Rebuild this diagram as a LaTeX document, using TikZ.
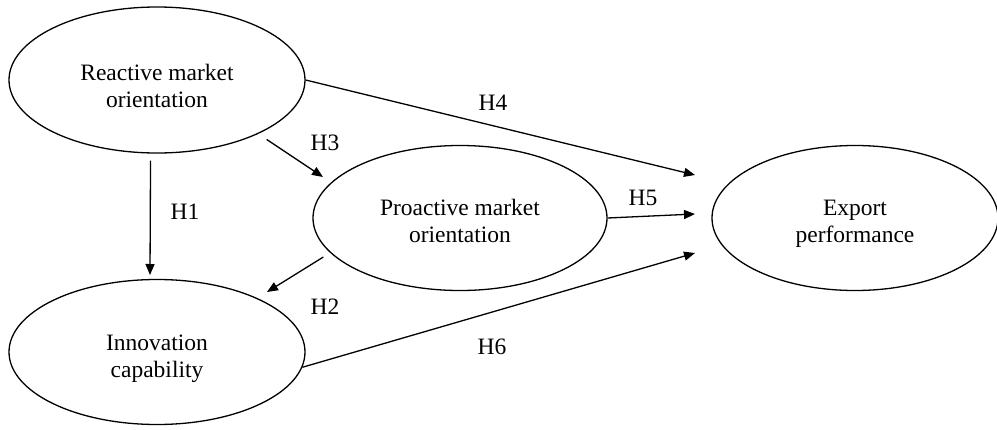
\documentclass[tikz,border=0pt]{standalone}
\usepackage{fontspec}
\setmainfont{Liberation Serif}
\usetikzlibrary{shapes.geometric,arrows.meta}
\newcommand\lowtext[2]{\raisebox{-#1}[\height][\depth]{\begin{tabular}{@{}c@{}}#2\end{tabular}}}
\begin{document}
\begin{tikzpicture}[x=1pt,y=-1pt,
  construct/.style={draw,line width=1.3pt,ellipse,inner sep=0pt,
    font=\fontsize{23.5}{27}\selectfont},
  arr/.style={line width=1.3pt,-{Triangle[length=11pt,width=9pt]}},
  hlab/.style={font=\fontsize{23.5}{27}\selectfont,inner sep=0pt}]
\useasboundingbox (0,0) rectangle (997,429);
\node[construct,minimum width=296pt,minimum height=146pt] (R) at (157,80) {\lowtext{9pt}{Reactive market\\orientation}};
\node[construct,minimum width=294pt,minimum height=145pt] (P) at (460,218) {\lowtext{6pt}{Proactive market\\orientation}};
\node[construct,minimum width=296pt,minimum height=145pt] (I) at (157,352) {\lowtext{7pt}{Innovation\\capability}};
\node[construct,minimum width=286pt,minimum height=145pt] (E) at (855,218) {\lowtext{6pt}{Export\\performance}};
\coordinate (t1) at (150,275);
\coordinate (t2) at (267,292);
\coordinate (t3) at (323,177);
\coordinate (t4) at (695,175);
\coordinate (t5) at (695,214);
\coordinate (t6) at (695,253);
\draw[arr,shorten <=7pt] (R.-95) -- (t1);
\draw[arr,shorten <=8pt] (P.195) -- (t2);
\draw[arr,shorten <=10pt] (R.-28) -- (t3);
\draw[arr] (R.east) -- (t4);
\draw[arr] (P.east) -- (t5);
\draw[arr] (I.-6) -- (t6);
\node[hlab] (h1) at (185,212) {H1};
\node[hlab] (h2) at (325,307) {H2};
\node[hlab] (h3) at (325,143) {H3};
\node[hlab] (h4) at (493,103) {H4};
\node[hlab] (h5) at (643,198) {H5};
\node[hlab] (h6) at (492,347) {H6};
\end{tikzpicture}
\end{document}
